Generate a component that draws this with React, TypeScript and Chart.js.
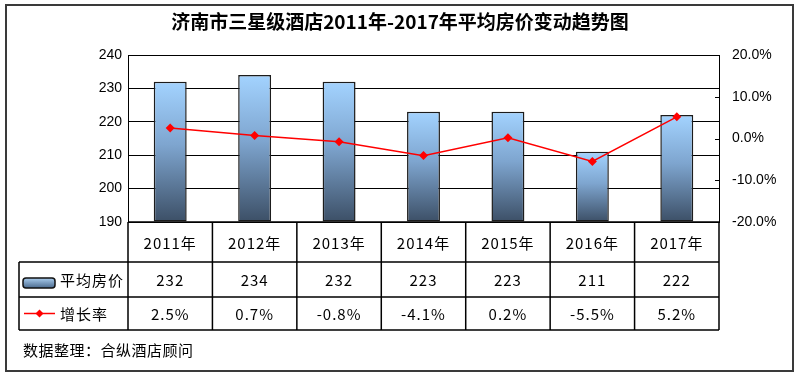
import React, { useEffect, useRef } from "react";
import { Chart, registerables } from "chart.js";

Chart.register(...registerables);

const chartTitle = "济南市三星级酒店2011年-2017年平均房价变动趋势图";
const categories = ["2011年", "2012年", "2013年", "2014年", "2015年", "2016年", "2017年"];
const avgPrice = [232, 234, 232, 223, 223, 211, 222];
const growthRate = [2.5, 0.7, -0.8, -4.1, 0.2, -5.5, 5.2];
const seriesNames = ["平均房价", "增长率"];
const sourceText = "数据整理：合纵酒店顾问";

const CJK = '"Noto Sans CJK SC", "Noto Sans", sans-serif';
const ARIAL = '"Liberation Sans", Arial, sans-serif';

function barGradient(ctx: CanvasRenderingContext2D, top: number, bottom: number) {
  const g = ctx.createLinearGradient(0, top, 0, bottom);
  g.addColorStop(0, "#a3d3ff");
  g.addColorStop(0.45, "#7ea5cf");
  g.addColorStop(1, "#3c4f66");
  return g;
}

const framePlugin = {
  id: "framePlugin",
  afterDraw(chart: any) {
    const ctx: CanvasRenderingContext2D = chart.ctx;
    const area = chart.chartArea;
    const x = chart.scales.x;
    const n = categories.length;
    ctx.save();

    // outer border
    ctx.strokeStyle = "#3a3a3a";
    ctx.lineWidth = 2;
    ctx.strokeRect(6, 5, 787, 366);

    // title
    ctx.fillStyle = "#000";
    ctx.font = `bold 19px ${CJK}`;
    ctx.textAlign = "center";
    ctx.textBaseline = "middle";
    ctx.fillText(chartTitle, 400, 22);

    // plot frame
    ctx.strokeStyle = "#000";
    ctx.lineWidth = 1;
    ctx.strokeRect(area.left + 0.5, area.top + 0.5, area.right - area.left, area.bottom - area.top);

    // column boundaries
    const bounds: number[] = [area.left];
    for (let i = 1; i < n; i++) {
      bounds.push((x.getPixelForValue(i - 1) + x.getPixelForValue(i)) / 2);
    }
    bounds.push(area.right);

    const r0 = area.bottom;
    const r1 = 262;
    const r2 = 297;
    const r3 = 330;
    const legLeft = 19;

    ctx.lineWidth = 1.5;
    ctx.strokeStyle = "#000";
    ctx.beginPath();
    // horizontal lines
    ctx.moveTo(area.left, r0); ctx.lineTo(area.right, r0);
    ctx.moveTo(legLeft, r1); ctx.lineTo(area.right, r1);
    ctx.moveTo(legLeft, r2); ctx.lineTo(area.right, r2);
    ctx.moveTo(legLeft, r3); ctx.lineTo(area.right, r3);
    // verticals
    for (const b of bounds) {
      ctx.moveTo(b, r0); ctx.lineTo(b, r3);
    }
    ctx.moveTo(legLeft, r1); ctx.lineTo(legLeft, r3);
    ctx.stroke();

    // right axis small ticks
    const y1 = chart.scales.y1;
    ctx.lineWidth = 1;
    ctx.beginPath();
    for (const v of [10, 0, -10]) {
      const py = Math.round(y1.getPixelForValue(v)) + 0.5;
      ctx.moveTo(area.right - 4, py); ctx.lineTo(area.right, py);
    }
    ctx.stroke();

    // table text
    ctx.font = `15px ${CJK}`;
    (ctx as any).letterSpacing = "1px";
    ctx.fillStyle = "#000";
    ctx.textAlign = "center";
    ctx.textBaseline = "middle";
    for (let i = 0; i < n; i++) {
      const cx = (bounds[i] + bounds[i + 1]) / 2;
      ctx.fillText(categories[i], cx, (r0 + r1) / 2 + 1);
      ctx.fillText(String(avgPrice[i]), cx, (r1 + r2) / 2 + 1);
      ctx.fillText(growthRate[i].toFixed(1) + "%", cx, (r2 + r3) / 2 + 1);
    }

    // legend
    ctx.textAlign = "left";
    ctx.fillText(seriesNames[0], 60, (r1 + r2) / 2 + 1);
    ctx.fillText(seriesNames[1], 60, (r2 + r3) / 2 + 1);

    // legend swatch bar
    const sx = 23, sy = 278, sw = 32, sh = 10;
    const g = ctx.createLinearGradient(0, sy, 0, sy + sh);
    g.addColorStop(0, "#a9cdef");
    g.addColorStop(1, "#4a6a8e");
    ctx.fillStyle = g;
    ctx.strokeStyle = "#111";
    ctx.lineWidth = 1.5;
    ctx.beginPath();
    (ctx as any).roundRect(sx, sy, sw, sh, 3);
    ctx.fill();
    ctx.stroke();

    // legend swatch line
    const ly = (r2 + r3) / 2;
    ctx.strokeStyle = "#ff0000";
    ctx.lineWidth = 1.5;
    ctx.beginPath();
    ctx.moveTo(24, ly); ctx.lineTo(55, ly);
    ctx.stroke();
    ctx.fillStyle = "#ff0000";
    ctx.beginPath();
    ctx.moveTo(39.5, ly - 4); ctx.lineTo(43.5, ly); ctx.lineTo(39.5, ly + 4); ctx.lineTo(35.5, ly);
    ctx.closePath();
    ctx.fill();

    // source
    ctx.fillStyle = "#000";
    ctx.font = `15px ${CJK}`;
    (ctx as any).letterSpacing = "0.5px";
    ctx.textAlign = "left";
    ctx.fillText(sourceText, 23, 350);

    ctx.restore();
  },
};

export default function App() {
  const ref = useRef<HTMLCanvasElement | null>(null);

  useEffect(() => {
    document.body.style.margin = "0";
    const canvas = ref.current;
    if (!canvas) return;
    const chart = new Chart(canvas, {
      data: {
        labels: categories,
        datasets: [
          {
            type: "line",
            label: seriesNames[1],
            data: growthRate,
            yAxisID: "y1",
            borderColor: "#ff0000",
            backgroundColor: "#ff0000",
            borderWidth: 1.5,
            pointStyle: "rectRot",
            pointRadius: 4.5,
            pointBorderWidth: 0,
            tension: 0,
            order: 0,
          } as any,
          {
            type: "bar",
            label: seriesNames[0],
            data: avgPrice,
            yAxisID: "y",
            base: 190,
            borderColor: "#1c1c1c",
            borderWidth: 1.5,
            borderSkipped: false,
            barPercentage: 0.39,
            categoryPercentage: 1,
            backgroundColor: (c: any) => {
              const chart = c.chart;
              const area = chart.chartArea;
              const ys = chart.scales && chart.scales.y;
              if (!area || !ys || c.type !== "data") return "#7ea5cf";
              const top = ys.getPixelForValue(avgPrice[c.dataIndex]);
              return barGradient(chart.ctx, top, area.bottom);
            },
            order: 1,
          } as any,
        ],
      },
      options: {
        responsive: false,
        animation: false,
        devicePixelRatio: 1,
        layout: { padding: { top: 55, bottom: 156, left: 0, right: 0 } },
        plugins: {
          legend: { display: false },
          title: { display: false },
          tooltip: { enabled: false },
        },
        scales: {
          x: {
            display: false,
            offset: true,
          },
          y: {
            position: "left",
            min: 190,
            max: 240,
            ticks: {
              stepSize: 10,
              padding: 6,
              color: "#000",
              font: { family: ARIAL, size: 14 },
            },
            grid: { color: "#000", lineWidth: 1, drawTicks: false },
            border: { display: true, color: "#000", width: 1 },
            afterFit: (s: any) => {
              s.width = 128;
            },
          },
          y1: {
            position: "right",
            min: -20,
            max: 20,
            ticks: {
              stepSize: 10,
              padding: 13,
              color: "#000",
              font: { family: ARIAL, size: 14 },
              callback: (v: any) => Number(v).toFixed(1) + "%",
            },
            grid: { display: false, drawTicks: false },
            border: { display: true, color: "#000", width: 1 },
            afterFit: (s: any) => {
              s.width = 81;
            },
          },
        },
      } as any,
      plugins: [framePlugin],
    });
    return () => chart.destroy();
  }, []);

  return (
    <div style={{ width: 800, height: 378 }}>
      <canvas ref={ref} width={800} height={378} style={{ display: "block", width: 800, height: 378 }} />
    </div>
  );
}
